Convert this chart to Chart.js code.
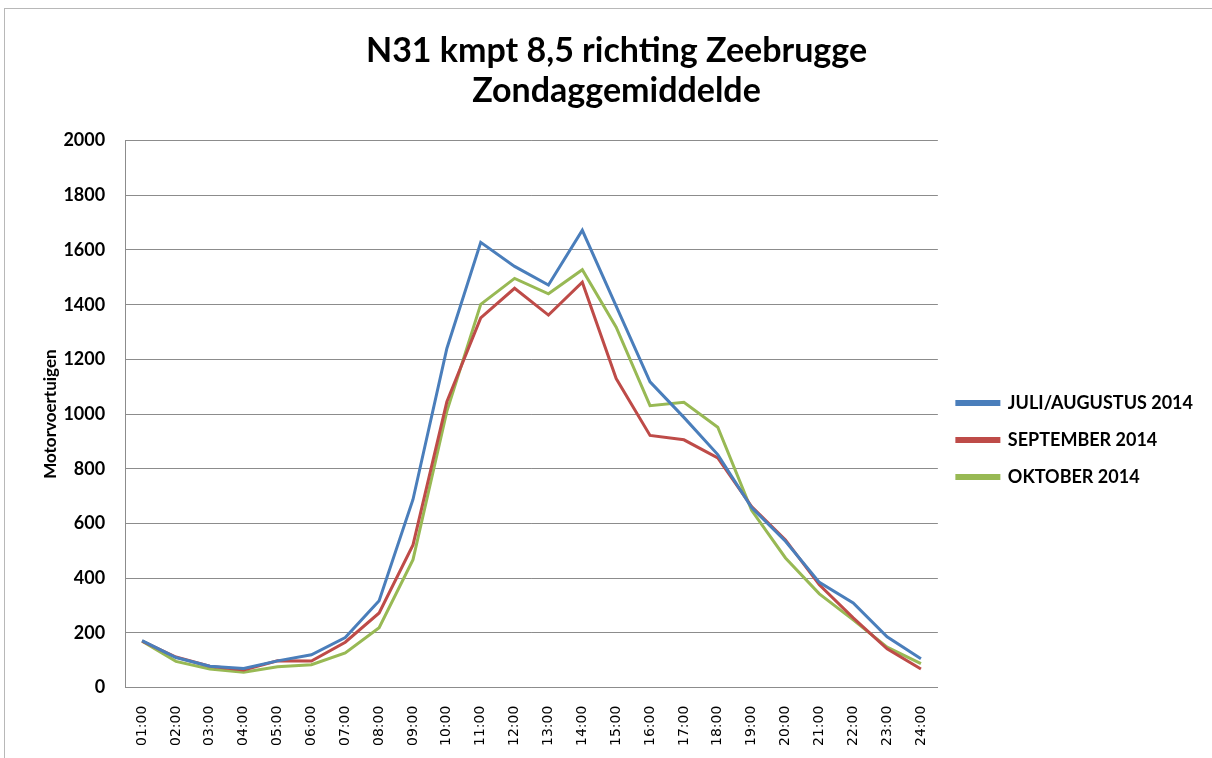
<!DOCTYPE html>
<html>
<head>
<meta charset="utf-8">
<script src="https://cdn.jsdelivr.net/npm/chart.js@4"></script>
<style>
  html, body { margin: 0; padding: 0; background: #fff; overflow: hidden; }
  #frame { position: absolute; left: 4px; top: 8px; width: 1230px; height: 780px; border: 1px solid #b8b8b8; }
  #wrap { position: absolute; left: 0; top: 0; width: 1212px; height: 758px; }
</style>
</head>
<body>
<div id="frame"></div>
<div id="wrap"><canvas id="chart"></canvas></div>
<script>
const hours = ["01:00","02:00","03:00","04:00","05:00","06:00","07:00","08:00","09:00","10:00","11:00","12:00",
               "13:00","14:00","15:00","16:00","17:00","18:00","19:00","20:00","21:00","22:00","23:00","24:00"];

const juliAugustus = [172, 110, 78, 70, 98, 120, 183, 318, 688, 1240, 1628, 1540,
                      1472, 1672, 1395, 1118, 988, 852, 658, 535, 385, 310, 186, 106];
const september    = [170, 112, 78, 65, 98, 97, 166, 273, 522, 1045, 1352, 1460,
                      1362, 1482, 1130, 922, 906, 840, 662, 540, 376, 255, 142, 68];
const oktober      = [170, 96, 68, 56, 76, 84, 127, 219, 468, 1010, 1401, 1496,
                      1440, 1528, 1318, 1031, 1043, 952, 648, 474, 343, 248, 148, 88];

const seriesNames = ["JULI/AUGUSTUS 2014", "SEPTEMBER 2014", "OKTOBER 2014"];
const seriesColors = ["#4a7ebb", "#be4b48", "#98b954"];

const ctx = document.getElementById('chart').getContext('2d');
new Chart(ctx, {
  type: 'line',
  data: {
    labels: hours,
    datasets: [juliAugustus, september, oktober].map((vals, i) => ({
      label: seriesNames[i],
      data: vals,
      borderColor: seriesColors[i],
      backgroundColor: seriesColors[i],
      borderWidth: 3,
      pointRadius: 0,
      tension: 0,
      fill: false
    }))
  },
  options: {
    responsive: true,
    maintainAspectRatio: false,
    animation: false,
    layout: { padding: { top: 8, left: 30, right: 9, bottom: 2 } },
    plugins: {
      title: {
        display: true,
        text: ['N31 kmpt 8,5 richting Zeebrugge', 'Zondaggemiddelde'],
        color: '#000',
        font: { family: 'Lato', size: 34, weight: 'bold', lineHeight: 1.17 },
        padding: { top: 23, bottom: 30 }
      },
      legend: {
        display: true,
        position: 'right',
        title: {
          // empty legend title only pushes the entries down to the reference height
          display: true,
          text: ' ',
          font: { size: 10, lineHeight: 1 },
          padding: { top: 0, bottom: 106 }
        },
        labels: {
          color: '#000',
          boxWidth: 42,
          boxHeight: 3,
          padding: 19,
          font: { family: 'Lato', size: 18, weight: 'bold' }
        }
      },
      tooltip: { enabled: false }
    },
    scales: {
      x: {
        offset: true,
        grid: { display: false },
        border: { display: true, color: '#8c8c8c', width: 1 },
        ticks: {
          color: '#000',
          minRotation: 90,
          maxRotation: 90,
          padding: 10,
          font: { family: 'DejaVu Sans', size: 14 }
        }
      },
      y: {
        min: 0,
        max: 2000,
        ticks: {
          stepSize: 200,
          color: '#000',
          padding: 20,
          font: { family: 'Lato', size: 18, weight: 'bold' },
          callback: (v) => String(v)
        },
        grid: { color: '#8c8c8c', lineWidth: 1, drawTicks: false },
        border: { display: true, color: '#8c8c8c', width: 1 },
        title: {
          display: true,
          text: 'Motorvoertuigen',
          color: '#000',
          font: { family: 'Lato', size: 17, weight: 'bold' },
          padding: { top: 10, bottom: -17 }
        }
      }
    }
  }
});
</script>
</body>
</html>
